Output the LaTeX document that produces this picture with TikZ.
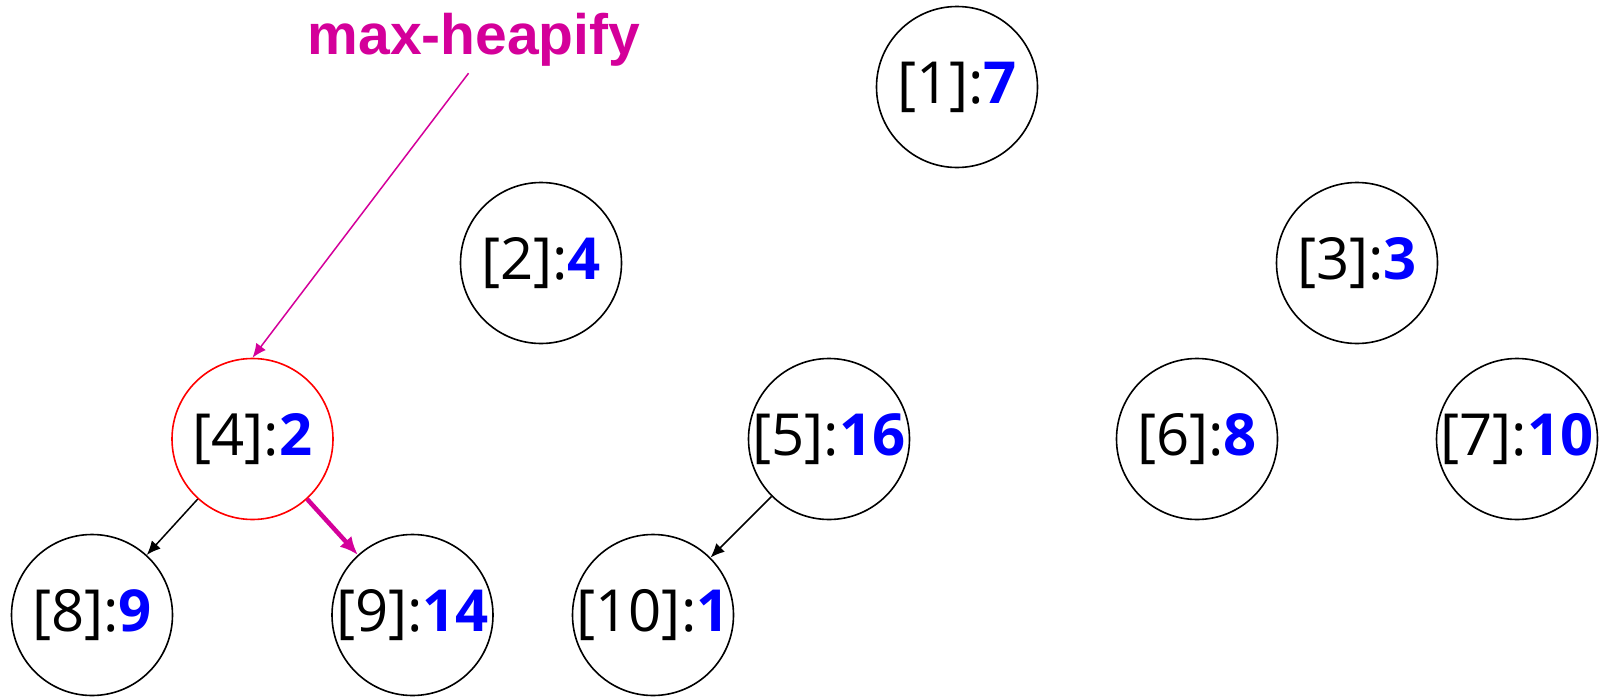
\documentclass[tikz,border=0pt]{standalone}
\usepackage{fontspec}
\setmainfont{Open Sans}
\newfontfamily\titlefont{Liberation Sans}
\usepackage{xcolor}
\usepackage{tikz}
\usetikzlibrary{arrows.meta}
\definecolor{heapmag}{RGB}{212,0,154}
\newcommand{\kv}[2]{\raisebox{-6pt}{\makebox[0pt]{[#1]:{\bfseries\color{blue}#2}}}}

\begin{document}
\begin{tikzpicture}[
  x=1pt, y=-1pt,
  vert/.style={circle, draw, line width=1.6pt, minimum size=161pt, inner sep=0pt, font={\fontsize{58pt}{70pt}\selectfont}},
  edge/.style={-{Latex[length=14pt, width=12pt]}, line width=1.5pt},
  hot/.style={-{Latex[length=18pt, width=16pt]}, line width=4.5pt, heapmag},
  note/.style={-{Latex[length=14pt, width=12pt]}, line width=1.5pt, heapmag, shorten <=9pt}
]
\useasboundingbox (0,0) rectangle (1607,699);
\node[anchor=base, inner sep=0pt, text=heapmag, font={\titlefont\bfseries\fontsize{57pt}{68pt}\selectfont}] (lbl) at (474,54) {max-heapify};
\node[vert] (n1) at (957,87) {\kv{1}{7}};
\node[vert] (n2) at (541,263) {\kv{2}{4}};
\node[vert] (n3) at (1357,263) {\kv{3}{3}};
\node[vert, red] (n4) at (252.5,439) {\textcolor{black}{\kv{4}{2}}};
\node[vert] (n5) at (829,439) {\kv{5}{16}};
\node[vert] (n6) at (1197,439) {\kv{6}{8}};
\node[vert] (n7) at (1517,439) {\kv{7}{10}};
\node[vert] (n8) at (92,615) {\kv{8}{9}};
\node[vert] (n9) at (412.5,615) {\kv{9}{14}};
\node[vert] (n10) at (653,615) {\kv{10}{1}};
\draw[note] (lbl.south) -- (n4.north);
\draw[edge] (n4) -- (n8);
\draw[hot] (n4) -- (n9);
\draw[edge] (n5) -- (n10);
\end{tikzpicture}
\end{document}
